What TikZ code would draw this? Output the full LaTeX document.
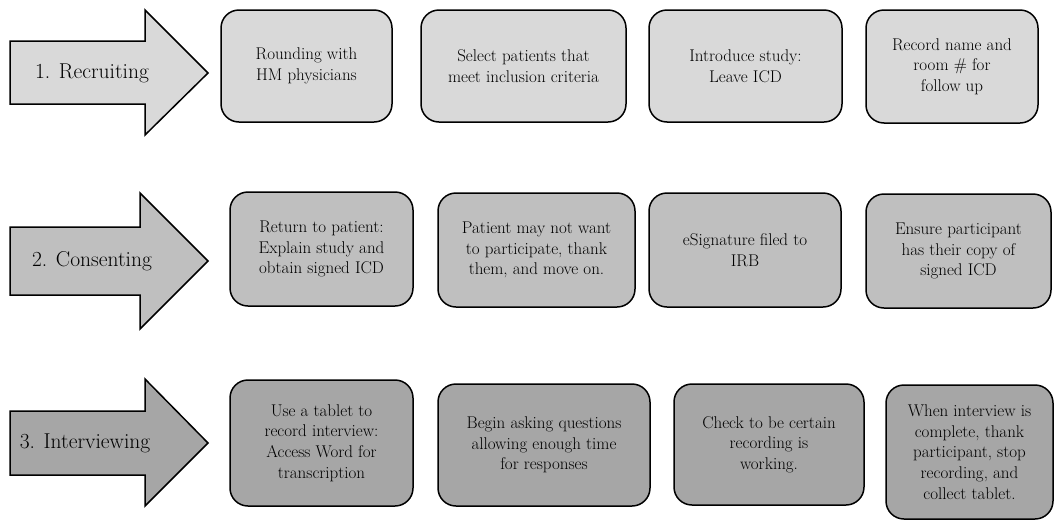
\documentclass[tikz,border=0pt]{standalone}
\definecolor{rowone}{HTML}{D9D9D9}
\definecolor{rowtwo}{HTML}{BFBFBF}
\definecolor{rowthree}{HTML}{A6A6A6}
\tikzset{
  stepbox/.style={draw, rounded corners=18pt, line width=1.5pt, align=center,
    inner sep=0pt, font=\fontsize{17}{20.6}\selectfont},
  phase/.style={draw, line width=1.5pt, line join=miter},
  phaselabel/.style={font=\fontsize{21.5}{25}\selectfont}
}

\begin{document}
\begin{tikzpicture}[x=1pt, y=-1pt]
 \useasboundingbox (0,0) rectangle (1055,520);
 % phase arrows
 \draw[phase, fill=rowone] (10,41) -- (145,41) -- (145,10) -- (208,73) -- (145,135) -- (145,104) -- (10,104) -- cycle;
 \node[phaselabel] (recruit) at (92,73) {1. Recruiting};
 \draw[phase, fill=rowtwo] (10,227) -- (140,227) -- (140,193) -- (208,261) -- (140,329) -- (140,295) -- (10,295) -- cycle;
 \node[phaselabel] (consent) at (92,261) {2. Consenting};
 \draw[phase, fill=rowthree] (10,411) -- (145,411) -- (145,379) -- (208,443) -- (145,506) -- (145,475) -- (10,475) -- cycle;
 \node[phaselabel] (interview) at (85,443) {3. Interviewing};

 % recruiting
 \node[stepbox, fill=rowone, minimum width=171pt, minimum height=112pt] (rounding) at (306.5,66) {Rounding with\\HM physicians};
 \node[stepbox, fill=rowone, minimum width=205pt, minimum height=112pt] (select) at (523.5,66) {Select patients that\\meet inclusion criteria};
 \node[stepbox, fill=rowone, minimum width=193pt, minimum height=112pt] (introduce) at (745.5,66) {Introduce study:\\Leave ICD};
 \node[stepbox, fill=rowone, minimum width=172pt, minimum height=113pt] (recname) at (952,66.5) {Record name and\\room \# for\\follow up};

 % consenting
 \node[stepbox, fill=rowtwo, minimum width=183pt, minimum height=114pt] (return) at (321.5,249) {Return to patient:\\Explain study and\\obtain signed ICD};
 \node[stepbox, fill=rowtwo, minimum width=197pt, minimum height=114pt] (decline) at (536.5,250) {Patient may not want\\to participate, thank\\them, and move on.};
 \node[stepbox, fill=rowtwo, minimum width=192pt, minimum height=114pt] (esign) at (745,250) {eSignature filed to\\IRB};
 \node[stepbox, fill=rowtwo, minimum width=185pt, minimum height=114pt] (copy) at (958.5,251) {Ensure participant\\has their copy of\\signed ICD};

 % interviewing
 \node[stepbox, fill=rowthree, minimum width=183pt, minimum height=126pt] (tablet) at (321.5,443) {Use a tablet to\\record interview:\\Access Word for\\transcription};
 \node[stepbox, fill=rowthree, minimum width=212pt, minimum height=122pt] (asking) at (544,445) {Begin asking questions\\allowing enough time\\for responses};
 \node[stepbox, fill=rowthree, minimum width=190pt, minimum height=121pt] (check) at (769,444.5) {Check to be certain\\recording is\\working.};
 \node[stepbox, fill=rowthree, minimum width=167pt, minimum height=134pt] (finish) at (969.5,452) {When interview is\\complete, thank\\participant, stop\\recording, and\\collect tablet.};
\end{tikzpicture}
\end{document}
